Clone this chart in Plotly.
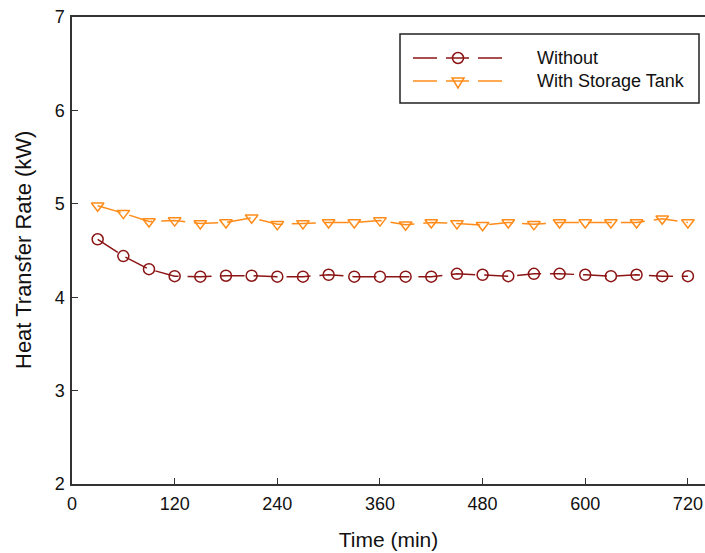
import plotly.graph_objects as go

time_min = [30, 60, 90, 120, 150, 180, 210, 240, 270, 300, 330, 360,
            390, 420, 450, 480, 510, 540, 570, 600, 630, 660, 690, 720]
without = [4.62, 4.44, 4.30, 4.225, 4.22, 4.23, 4.23, 4.22, 4.22, 4.24, 4.22, 4.22,
           4.22, 4.22, 4.25, 4.24, 4.225, 4.25, 4.25, 4.24, 4.225, 4.24, 4.225, 4.225]
with_tank = [4.98, 4.90, 4.81, 4.82, 4.79, 4.80, 4.85, 4.78, 4.79, 4.80, 4.80, 4.82,
             4.775, 4.80, 4.79, 4.77, 4.80, 4.78, 4.80, 4.80, 4.80, 4.80, 4.84, 4.80]
series_names = ["Without", "With Storage Tank"]
x_ticks = [0, 120, 240, 360, 480, 600, 720]
y_ticks = [2, 3, 4, 5, 6, 7]
y_title = "Heat Transfer Rate (kW)"
x_title = "Time (min)"

C_RED = "#8b1414"
C_ORG = "#ff8c1a"
DASH = "24px,9px"
FONT = "Liberation Sans, Arial, sans-serif"

W, H = 705, 553
ML, MR, MT, MB = 72, 0, 17, 69
PW, PH = W - ML - MR, H - MT - MB


def px(x):
    return (x - ML) / PW


def py(y):
    return (MT + PH - y) / PH


fig = go.Figure()
fig.add_trace(go.Scatter(
    x=time_min, y=without, mode="lines+markers", name=series_names[0],
    line=dict(color=C_RED, width=1.5, dash=DASH),
    marker=dict(symbol="circle-open", size=11, color=C_RED, line=dict(width=1.5, color=C_RED)),
    showlegend=False, cliponaxis=False))
fig.add_trace(go.Scatter(
    x=time_min, y=with_tank, mode="lines+markers", name=series_names[1],
    line=dict(color=C_ORG, width=1.5, dash=DASH),
    marker=dict(symbol="triangle-down-open", size=11, color=C_ORG, line=dict(width=1.5, color=C_ORG)),
    showlegend=False, cliponaxis=False))

shapes = []
annotations = []
# legend box
shapes.append(dict(type="rect", xref="paper", yref="paper",
                   x0=px(400), x1=px(699), y0=py(103), y1=py(34),
                   line=dict(color="#222", width=1.5), fillcolor="white", layer="above"))
rows = [(58, C_RED, "circle"), (81, C_ORG, "tri")]
for (yy, col, mk), name in zip(rows, series_names):
    for a, b in [(413, 437), (446, 469), (478, 502)]:
        shapes.append(dict(type="line", xref="paper", yref="paper",
                           x0=px(a), x1=px(b), y0=py(yy), y1=py(yy),
                           line=dict(color=col, width=1.5), layer="above"))
    if mk == "circle":
        shapes.append(dict(type="circle", xref="paper", yref="paper",
                           xsizemode="pixel", ysizemode="pixel",
                           xanchor=px(458), yanchor=py(yy),
                           x0=-5.5, x1=5.5, y0=-5.5, y1=5.5,
                           line=dict(color=col, width=1.5), fillcolor="rgba(0,0,0,0)", layer="above"))
    else:
        shapes.append(dict(type="path", xref="paper", yref="paper",
                           xsizemode="pixel", ysizemode="pixel",
                           xanchor=px(458), yanchor=py(yy),
                           path="M-6,3 L6,3 L0,-7 Z",
                           line=dict(color=col, width=1.5), fillcolor="rgba(0,0,0,0)", layer="above"))
    annotations.append(dict(xref="paper", yref="paper", x=px(535), y=py(yy),
                            xanchor="left", yanchor="middle", text=name, showarrow=False,
                            font=dict(family=FONT, size=18, color="#111")))

# y-axis title
annotations.append(dict(xref="paper", yref="paper", x=px(23), y=py(250),
                        xanchor="center", yanchor="middle", text=y_title, textangle=-90,
                        showarrow=False, font=dict(family=FONT, size=22, color="#111")))

fig.update_layout(
    width=W, height=H,
    margin=dict(l=ML, r=MR, t=MT, b=MB, pad=0),
    paper_bgcolor="white", plot_bgcolor="white",
    font=dict(family=FONT, color="#111"),
    shapes=shapes, annotations=annotations,
    showlegend=False,
)
fig.update_xaxes(
    range=[0, 740], tickvals=x_ticks, ticktext=[str(v) for v in x_ticks],
    ticks="inside", ticklen=6, tickwidth=1.2, tickcolor="#333",
    showline=True, linecolor="#333", linewidth=1.5, mirror=True,
    showgrid=False, zeroline=False, ticklabelstandoff=3,
    tickfont=dict(family=FONT, size=18, color="#111"),
    title=dict(text=x_title, font=dict(family=FONT, size=21, color="#111"), standoff=19),
)
fig.update_yaxes(
    range=[2, 7], tickvals=y_ticks, ticktext=[str(v) for v in y_ticks],
    ticks="inside", ticklen=6, tickwidth=1.2, tickcolor="#333",
    showline=True, linecolor="#333", linewidth=1.5, mirror=False,
    showgrid=False, zeroline=False, ticklabelstandoff=2,
    tickfont=dict(family=FONT, size=18, color="#111"),
)

fig.write_html("out.html", config={"displayModeBar": False},
               post_script="document.body.style.margin='0';document.body.style.overflow='hidden';")
